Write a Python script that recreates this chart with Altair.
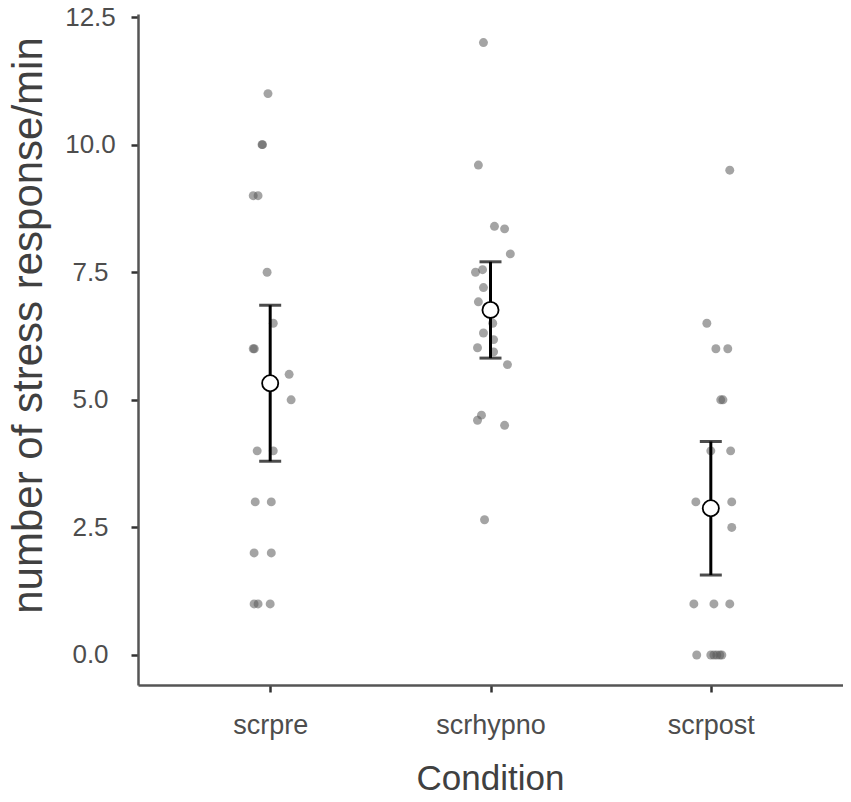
import altair as alt
import pandas as pd

# ---- data ----
categories = ["scrpre", "scrhypno", "scrpost"]

scrpre_values = [11, 10, 10, 9, 9, 7.5, 6.5, 6, 6, 5.5, 5, 4, 4, 3, 3, 2, 2, 1, 1, 1]
scrpre_jitter = [-0.01, -0.035, -0.037, -0.077, -0.055, -0.014, 0.014, -0.077, -0.072,
                 0.086, 0.095, -0.059, 0.014, -0.068, 0.005, -0.073, 0.005, -0.073, -0.055, 0.0]

scrhypno_values = [12, 9.6, 8.4, 8.35, 7.86, 7.5, 7.55, 7.2, 6.92, 6.75, 6.5, 6.31, 6.18,
                   6.02, 5.94, 5.69, 4.7, 4.6, 4.5, 2.65]
scrhypno_jitter = [-0.032, -0.055, 0.018, 0.064, 0.09, -0.068, -0.036, -0.032, -0.055, 0.0,
                   0.01, -0.032, 0.014, -0.059, 0.014, 0.077, -0.041, -0.059, 0.064, -0.027]

scrpost_values = [9.5, 6.5, 6, 6, 5, 5, 4, 4, 3, 3, 2.5, 1, 1, 1, 0, 0, 0, 0, 0, 0]
scrpost_jitter = [0.086, -0.018, 0.023, 0.077, 0.045, 0.055, 0.0, 0.09, -0.068, 0.095,
                  0.095, -0.077, 0.014, 0.086, -0.064, 0.0, 0.014, 0.027, 0.041, 0.05]

y_ticks = [0, 2.5, 5, 7.5, 10, 12.5]

rows = []
for i, (vals, jit) in enumerate([(scrpre_values, scrpre_jitter),
                                  (scrhypno_values, scrhypno_jitter),
                                  (scrpost_values, scrpost_jitter)]):
    for v, j in zip(vals, jit):
        rows.append({"cond": categories[i], "pos": i + 1, "jit": i + 1 + j, "value": v})
df = pd.DataFrame(rows)

label_expr = ("datum.value == 1 ? 'scrpre' : datum.value == 2 ? 'scrhypno' : "
              "datum.value == 3 ? 'scrpost' : ''")

FONT = "Liberation Sans"
xscale = alt.Scale(domain=[0.4, 3.6], nice=False, zero=False)
yscale = alt.Scale(domain=[-0.588, 12.56], nice=False, zero=False)

x_axis = alt.Axis(values=[1, 2, 3], labelExpr=label_expr, title="Condition",
                  grid=False, labelFontSize=27, titleFontSize=35,
                  labelColor="#4d4d4d", titleColor="#404040",
                  labelBaseline="alphabetic", labelPadding=41,
                  titleFontWeight="normal", titleX=352, titleY=104,
                  titleBaseline="alphabetic", titleAlign="center",
                  tickColor="#333333", tickWidth=2.5, tickSize=7,
                  domainColor="#555555", domainWidth=2.5,
                  labelFont=FONT, titleFont=FONT)
y_axis = alt.Axis(values=y_ticks, format=".1f", title="number of stress response/min",
                  grid=False, labelFontSize=26, titleFontSize=42,
                  labelColor="#4d4d4d", titleColor="#404040",
                  labelAlign="center", labelBaseline="middle", labelPadding=41,
                  titleFontWeight="normal", titleAngle=270, titleX=-97, titleY=311,
                  titleAlign="center", titleBaseline="alphabetic",
                  tickColor="#333333", tickWidth=2.5, tickSize=7,
                  domainColor="#555555", domainWidth=2.5,
                  labelFont=FONT, titleFont=FONT)

base = alt.Chart(df)

points = base.mark_circle(size=80, color="#5a5a5a", opacity=0.55).encode(
    x=alt.X("jit:Q", scale=xscale, axis=x_axis),
    y=alt.Y("value:Q", scale=yscale, axis=y_axis),
)

stats = base.transform_aggregate(
    mean="mean(value)", sd="stdev(value)", n="count()", groupby=["pos"]
).transform_calculate(
    lo="datum.mean - 2.093 * datum.sd / sqrt(datum.n)",
    hi="datum.mean + 2.093 * datum.sd / sqrt(datum.n)",
)

bars = stats.mark_rule(color="black", strokeWidth=3).encode(
    x=alt.X("pos:Q", scale=xscale),
    y=alt.Y("lo:Q", scale=yscale),
    y2="hi:Q",
)
cap_lo = stats.mark_tick(color="black", thickness=3, size=22, orient="horizontal").encode(
    x=alt.X("pos:Q", scale=xscale), y=alt.Y("lo:Q", scale=yscale))
cap_hi = stats.mark_tick(color="black", thickness=3, size=22, orient="horizontal").encode(
    x=alt.X("pos:Q", scale=xscale), y=alt.Y("hi:Q", scale=yscale))
means = stats.mark_point(shape="circle", size=260, filled=True, fill="white",
                         stroke="black", strokeWidth=1.8, opacity=1).encode(
    x=alt.X("pos:Q", scale=xscale), y=alt.Y("mean:Q", scale=yscale))

chart = alt.layer(points, bars, cap_lo, cap_hi, means).properties(
    width=705, height=671,
    autosize=alt.AutoSizeParams(type="none"),
    padding={"left": 130, "top": 6, "right": 0, "bottom": 105},
    background="white",
).configure_view(stroke=None)

chart.save("out.html", embed_options={"renderer": "svg", "actions": False})
